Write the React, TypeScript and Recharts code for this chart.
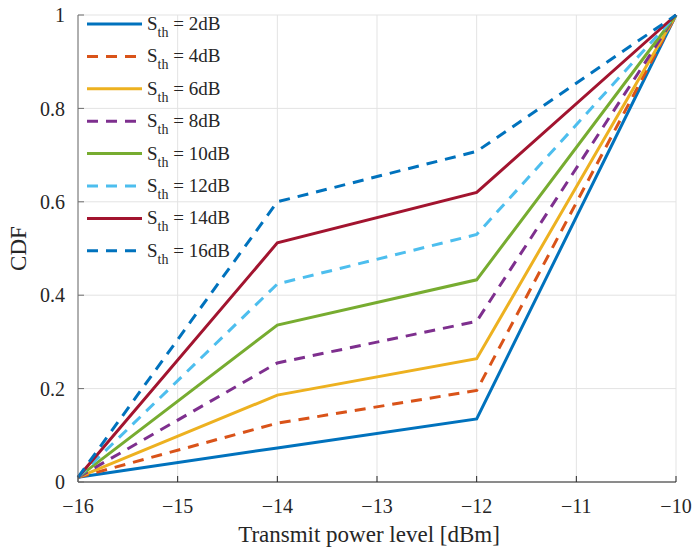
import {
  LineChart,
  Line,
  XAxis,
  YAxis,
  CartesianGrid,
  Legend,
  Label,
} from 'recharts'

// transmit power levels (dBm)
const powerLevels = [-16, -14, -12, -10]

// CDF per SNR threshold
const cdf2 = [0.01, 0.073, 0.135, 1]
const cdf4 = [0.01, 0.126, 0.196, 1]
const cdf6 = [0.01, 0.186, 0.264, 1]
const cdf8 = [0.01, 0.255, 0.344, 1]
const cdf10 = [0.01, 0.336, 0.433, 1]
const cdf12 = [0.01, 0.424, 0.53, 1]
const cdf14 = [0.01, 0.512, 0.62, 1]
const cdf16 = [0.01, 0.6, 0.708, 1]

const xTicks = [-16, -15, -14, -13, -12, -11, -10]
const yTicks = [0, 0.2, 0.4, 0.6, 0.8, 1]

const thresholds = ['2dB', '4dB', '6dB', '8dB', '10dB', '12dB', '14dB', '16dB']
const seriesValues = [cdf2, cdf4, cdf6, cdf8, cdf10, cdf12, cdf14, cdf16]

const series = [
  { color: '#0072BD', dashed: false },
  { color: '#D95319', dashed: true },
  { color: '#EDB120', dashed: false },
  { color: '#7E2F8E', dashed: true },
  { color: '#77AC30', dashed: false },
  { color: '#4DBEEE', dashed: true },
  { color: '#A2142F', dashed: false },
  { color: '#0072BD', dashed: true },
]

const data = powerLevels.map((p, i) => {
  const row: Record<string, number> = { power: p }
  seriesValues.forEach((vals, k) => {
    row[`s${k}`] = vals[i]
  })
  return row
})

const FONT = 'Liberation Serif, Times New Roman, serif'
const TEXT = '#262626'
const DASH = '11 8'

const fmt = (v: number) => String(v).replace('-', '\u2212')

function SthLegend() {
  const rowH = 32.4
  return (
    <svg width={200} height={270} style={{ display: 'block', fontFamily: FONT }}>
      {series.map((s, i) => {
        const cy = 16 + i * rowH
        return (
          <g key={i}>
            <line
              x1={1}
              x2={56}
              y1={cy}
              y2={cy}
              stroke={s.color}
              strokeWidth={3}
              strokeDasharray={s.dashed ? DASH : undefined}
            />
            <text x={61} y={cy + 6} style={{ fontFamily: FONT }} fontSize={19} fill={TEXT}>
              S
              <tspan fontSize={14} dy={7}>th</tspan>
              <tspan dy={-7}> = {thresholds[i]}</tspan>
            </text>
          </g>
        )
      })}
    </svg>
  )
}

export default function App() {
  return (
    <div style={{ position: 'absolute', left: 0, top: 0, width: 692, height: 551, background: '#fff', fontFamily: FONT }}>
      <LineChart
        width={692}
        height={551}
        data={data}
        margin={{ top: 15, right: 16, bottom: 9, left: 18 }}
        style={{ fontFamily: FONT }}
      >
        <CartesianGrid stroke="#e3e3e3" strokeWidth={1} />
        <XAxis
          dataKey="power"
          type="number"
          domain={[-16, -10]}
          ticks={xTicks}
          height={60}
          tickSize={-6}
          tickMargin={23}
          tickFormatter={fmt}
          stroke={TEXT}
          tick={{ fill: TEXT, fontFamily: FONT, fontSize: 20 }}
        >
          <Label
            value="Transmit power level [dBm]"
            position="insideBottom"
            offset={0}
            dx={-8}
            fill={TEXT}
            fontFamily={FONT}
            fontSize={23}
          />
        </XAxis>
        <XAxis
          xAxisId="top"
          dataKey="power"
          type="number"
          domain={[-16, -10]}
          orientation="top"
          height={0}
          tick={false}
          tickLine={false}
          stroke="#c8c8c8"
        />
        <YAxis
          type="number"
          domain={[0, 1]}
          ticks={yTicks}
          width={60}
          tickSize={-6}
          tickMargin={19}
          stroke="#6e6e6e"
          tick={{ fill: TEXT, fontFamily: FONT, fontSize: 20 }}
        >
          <Label
            content={({ viewBox }: any) => (
              <text
                transform={`translate(${(viewBox?.x ?? 18) + 8},${(viewBox?.y ?? 15) + (viewBox?.height ?? 467) / 2}) rotate(-90)`}
                textAnchor="middle"
                fill={TEXT}
                style={{ fontFamily: FONT }}
                fontSize={23}
              >
                CDF
              </text>
            )}
          />
        </YAxis>
        <YAxis
          yAxisId="right"
          orientation="right"
          type="number"
          domain={[0, 1]}
          width={0}
          tick={false}
          tickLine={false}
          stroke="#c8c8c8"
        />
        <Legend
          layout="vertical"
          align="center"
          verticalAlign="middle"
          wrapperStyle={{ left: 86, top: 8, width: 200, height: 270 }}
          content={() => <SthLegend />}
        />
        {series.map((s, k) => (
          <Line
            key={k}
            dataKey={`s${k}`}
            name={`S_th = ${thresholds[k]}`}
            stroke={s.color}
            strokeWidth={3}
            strokeDasharray={s.dashed ? DASH : undefined}
            dot={false}
            activeDot={false}
            isAnimationActive={false}
          />
        ))}
      </LineChart>
    </div>
  )
}
